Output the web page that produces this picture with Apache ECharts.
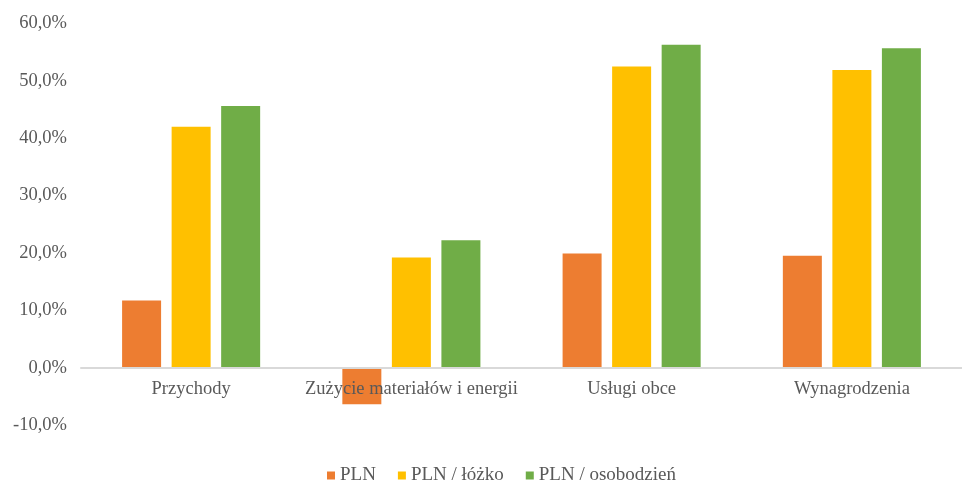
<!DOCTYPE html>
<html>
<head>
<meta charset="utf-8">
<script src="https://cdn.jsdelivr.net/npm/echarts@6/dist/echarts.min.js"></script>
<style>html,body{margin:0;padding:0;background:#fff;}#c{width:962px;height:482px;}</style>
</head>
<body>
<div id="c"></div>
<script>
const categories = ['Przychody', 'Zużycie materiałów i energii', 'Usługi obce', 'Wynagrodzenia'];
const seriesNames = ['PLN', 'PLN / łóżko', 'PLN / osobodzień'];
const plnValues = [11.7, -6.4, 19.9, 19.5];
const lozkoValues = [42.0, 19.2, 52.5, 51.9];
const osobodzienValues = [45.6, 22.2, 56.3, 55.7];
const colors = ['#ED7D31', '#FFC000', '#70AD47'];
const yMin = -10, yMax = 60, yStep = 10;

const font = 'Liberation Serif, Times New Roman, serif';
const textColor = '#595959';
const H = 482, gridTop = 23.5, gridBottom = 57;
const gridHeight = H - gridTop - gridBottom;
const zeroOffset = (0 - yMin) / (yMax - yMin) * gridHeight;

const chart = echarts.init(document.getElementById('c'), null, {renderer: 'canvas'});
const dataSets = [plnValues, lozkoValues, osobodzienValues];
chart.setOption({
  animation: false,
  backgroundColor: '#fff',
  grid: {left: 81, width: 886, top: gridTop, bottom: gridBottom, containLabel: false},
  legend: {
    data: seriesNames,
    left: 327,
    top: 466,
    padding: 0,
    icon: 'rect',
    itemWidth: 8,
    itemHeight: 8,
    itemGap: 22,
    textStyle: {fontFamily: font, fontSize: 19, color: textColor}
  },
  xAxis: {
    type: 'category',
    data: categories,
    position: 'bottom',
    offset: -zeroOffset,
    z: 5,
    axisLine: {onZero: false, lineStyle: {color: '#d9d9d9', width: 2}},
    axisTick: {show: false},
    axisLabel: {margin: 12, fontFamily: font, fontSize: 18.5, color: textColor, interval: 0}
  },
  yAxis: {
    type: 'value',
    min: yMin, max: yMax, interval: yStep,
    axisLine: {show: false},
    axisTick: {show: false},
    splitLine: {show: false},
    axisLabel: {
      margin: 14,
      fontFamily: font, fontSize: 18.5, color: textColor,
      padding: [3, 0, 0, 0],
      formatter: v => v.toFixed(1).replace('.', ',') + '%'
    }
  },
  series: seriesNames.map((n, i) => ({
    name: n,
    type: 'bar',
    data: dataSets[i],
    barWidth: 39,
    barGap: '27%',
    itemStyle: {color: colors[i]}
  }))
});
</script>
</body>
</html>
